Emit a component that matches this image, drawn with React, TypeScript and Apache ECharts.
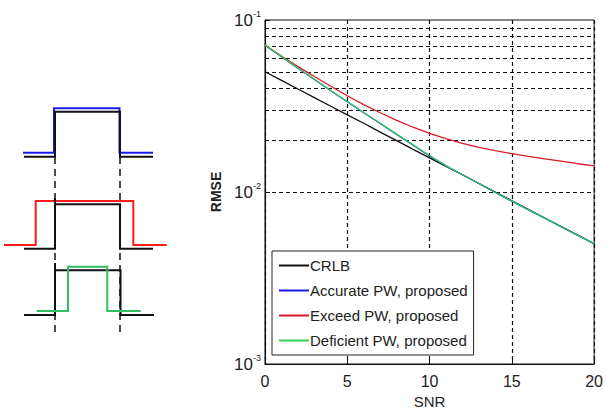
import React, { useEffect, useRef } from "react";
import * as echarts from "echarts";

const snr = [0, 1, 2, 3, 4, 5, 6, 7, 8, 9, 10, 11, 12, 13, 14, 15, 16, 17, 18, 19, 20];
const crlb = [0.05, 0.0446, 0.0397, 0.0354, 0.0315, 0.0281, 0.0251, 0.0223, 0.0199, 0.0177, 0.0158, 0.0141, 0.0126, 0.0112, 0.00998, 0.00889, 0.00792, 0.00706, 0.00629, 0.00561, 0.005];
const accurate = [0.0714, 0.0612, 0.0525, 0.0451, 0.0388, 0.0335, 0.0289, 0.025, 0.0216, 0.0187, 0.0162, 0.0142, 0.0126, 0.0112, 0.00993, 0.00885, 0.00789, 0.00705, 0.00628, 0.00561, 0.00501];
const exceed = [0.0716, 0.0617, 0.0536, 0.0469, 0.0412, 0.0363, 0.0322, 0.0289, 0.0261, 0.0238, 0.0219, 0.0204, 0.0192, 0.0182, 0.0174, 0.0167, 0.0161, 0.0156, 0.0151, 0.0146, 0.0142];
const deficient = [0.0716, 0.0614, 0.0526, 0.0452, 0.0389, 0.0336, 0.029, 0.0251, 0.0217, 0.0188, 0.0163, 0.0142, 0.0126, 0.0112, 0.00993, 0.00885, 0.00789, 0.00705, 0.00628, 0.00561, 0.00501];
const seriesNames = ["CRLB", "Accurate PW, proposed", "Exceed PW, proposed", "Deficient PW, proposed"];
const seriesColors = ["#111111", "#1a1aee", "#d81a2a", "#33cc55"];
const minorGridValues = [0.002, 0.003, 0.004, 0.005, 0.006, 0.007, 0.008, 0.009, 0.01, 0.02, 0.03, 0.04, 0.05, 0.06, 0.07, 0.08, 0.09];

// schematic pulse diagram (left)
const pulseTopBlue = [[23, 152.7], [54, 152.7], [54, 108.3], [119.5, 108.3], [119.5, 152.7], [153, 152.7]];
const pulseTopBlack = [[24, 156.7], [55, 156.7], [55, 111.7], [120, 111.7], [120, 156.7], [153, 156.7]];
const pulseMidRed = [[4, 245], [35.7, 245], [35.7, 201], [133.3, 201], [133.3, 245], [166.7, 245]];
const pulseMidBlack = [[24, 248.7], [55, 248.7], [55, 198], [55, 204.3], [120, 204.3], [120, 248.7], [153, 248.7]];
const pulseBotBlack = [[24, 315], [55, 315], [55, 263], [55, 270.3], [120.5, 270.3], [120.5, 315], [154, 315]];
const pulseBotGreen = [[36.7, 311], [68, 311], [68, 266.7], [107.3, 266.7], [107.3, 311], [140.7, 311]];

const FONT = '"Liberation Sans", Arial, sans-serif';

export default function App() {
  const ref = useRef<HTMLDivElement>(null);
  useEffect(() => {
    if (!ref.current) return;
    const chart = echarts.init(ref.current, null, { renderer: "svg" });
    const dataOf = (arr: number[]) => snr.map((x, i) => [x, arr[i]]);
    const all = [crlb, accurate, exceed, deficient];
    const poly = (pts: number[][], color: string, z = 10) => ({
      type: "polyline",
      z,
      shape: { points: pts },
      style: { stroke: color, lineWidth: 2, fill: null },
    });
    const dash = (x: number) => ({
      type: "line",
      z: 5,
      shape: { x1: x, y1: 157, x2: x, y2: 335 },
      style: { stroke: "#111", lineWidth: 1.5, lineDash: [7, 5] },
    });
    const option: any = {
      animation: false,
      backgroundColor: "#fff",
      grid: { left: 265, right: 8, top: 20, bottom: 47, show: true, borderColor: "#111", borderWidth: 1, backgroundColor: "transparent" },
      xAxis: {
        type: "value",
        min: 0,
        max: 20,
        interval: 5,
        name: "SNR",
        nameLocation: "middle",
        nameGap: 30,
        nameTextStyle: { fontFamily: FONT, fontSize: 15, color: "#222" },
        axisLine: { show: true, lineStyle: { color: "#111" } },
        axisTick: { show: true, inside: true, length: 5, lineStyle: { color: "#111" } },
        axisLabel: { fontFamily: FONT, fontSize: 16, color: "#222", margin: 9 },
        splitLine: { show: true, lineStyle: { color: "#111", type: [4, 3], width: 1.2 } },
      },
      yAxis: {
        type: "log",
        logBase: 10,
        min: 0.001,
        max: 0.1,
        name: "RMSE",
        nameLocation: "middle",
        nameGap: 34,
        nameTextStyle: { fontFamily: FONT, fontSize: 14, fontWeight: "bold", color: "#222" },
        axisLine: { show: true, lineStyle: { color: "#111" } },
        axisTick: { show: true, inside: true, length: 5, lineStyle: { color: "#111" } },
        axisLabel: {
          margin: 4,
          formatter: (v: number) => `{b|10}{s|${Math.round(Math.log10(v))}}`,
          rich: {
            b: { fontFamily: FONT, fontSize: 17, color: "#222" },
            s: { fontFamily: FONT, fontSize: 9, color: "#222", padding: [0, 0, 12, 0] },
          },
        },
        splitLine: { show: false },
      },
      legend: {
        orient: "vertical",
        left: 272,
        top: 251,
        padding: [7, 6, 7, 6],
        itemGap: 10,
        itemWidth: 30,
        itemHeight: 14,
        borderColor: "#222",
        borderWidth: 1,
        backgroundColor: "#fff",
        itemStyle: { opacity: 0 },
        textStyle: { fontFamily: FONT, fontSize: 15, color: "#222", padding: [0, 0, 0, -4] },
        data: seriesNames,
      },
      series: seriesNames.map((name, i) => ({
        name,
        type: "line",
        data: dataOf(all[i]),
        symbol: "none",
        smooth: false,
        lineStyle: { color: seriesColors[i], width: 1.3 },
        itemStyle: { color: seriesColors[i] },
        z: 3 + i,
        markLine:
          i === 0
            ? {
                silent: true,
                symbol: "none",
                label: { show: false },
                lineStyle: { color: "#111", type: [4, 3], width: 1.2 },
                data: minorGridValues.map((v) => ({ yAxis: v })),
                z: 1,
              }
            : undefined,
      })),
      graphic: [
        dash(55),
        dash(120),
        poly(pulseTopBlue, "#1a1aee", 10),
        poly(pulseTopBlack, "#111", 11),
        poly(pulseMidRed, "#ff1a1a", 10),
        poly(pulseMidBlack, "#111", 11),
        poly(pulseBotBlack, "#111", 10),
        poly(pulseBotGreen, "#2fbf5f", 11),
      ],
    };
    chart.setOption(option);
    return () => chart.dispose();
  }, []);
  return <div ref={ref} style={{ position: "fixed", left: 0, top: 0, width: 606, height: 414 }} />;
}
